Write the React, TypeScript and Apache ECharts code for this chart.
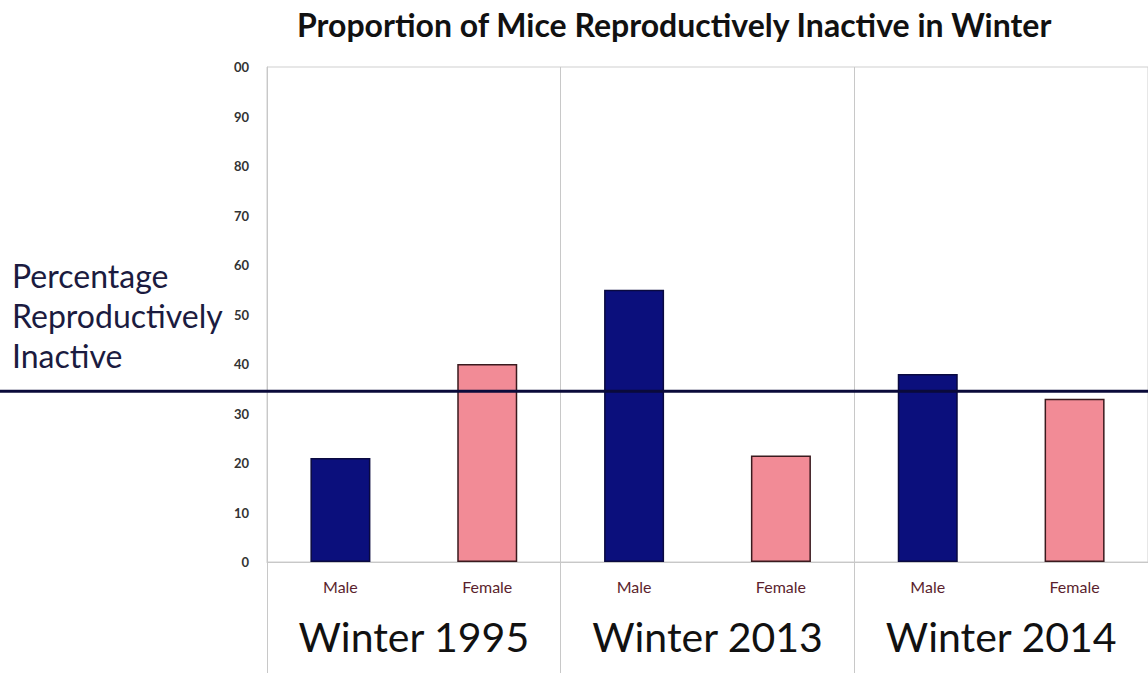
import React, { useEffect, useRef } from "react";
import * as echarts from "echarts";

const categories = ["Male", "Female", "Male", "Female", "Male", "Female"];
const groups = ["Winter 1995", "Winter 2013", "Winter 2014"];
const values = [21, 40, 55, 21.5, 38, 33];
const sexes = ["M", "F", "M", "F", "M", "F"];
const yTickLabels = ["0", "10", "20", "30", "40", "50", "60", "70", "80", "90", "00"];
const referenceValue = 34.5;

const NAVY = "#0b0f7c";
const PINK = "#f28b96";

export default function App() {
  const ref = useRef<HTMLDivElement>(null);
  useEffect(() => {
    document.body.style.margin = "0";
    const chart = echarts.init(ref.current!, null, { renderer: "svg" });
    const yLabel = {
      type: "text",
      left: 12,
      top: 255,
      style: {
        text: "Percentage\nReproductively\nInactive",
        font: "32px Lato",
        fill: "#1b1b40",
        lineHeight: 40,
      },
    };
    chart.setOption({
      animation: false,
      backgroundColor: "#ffffff",
      title: {
        text: "Proportion of Mice Reproductively Inactive in Winter",
        left: 292,
        top: 3,
        textStyle: { fontFamily: "Lato", fontWeight: "bold", fontSize: 32, color: "#111" },
      },
      grid: {
        left: 267,
        right: -4,
        top: 67,
        bottom: 111,
        show: true,
        borderColor: "#cfcfcf",
        borderWidth: 1,
      },
      xAxis: [
        {
          type: "category",
          data: categories,
          axisLine: { show: true, lineStyle: { color: "#c8c8c8", width: 1 } },
          axisTick: { show: false },
          axisLabel: { interval: 0, margin: 16, fontFamily: "Lato", fontSize: 16, color: "#5b1f2e" },
        },
        {
          type: "category",
          data: groups,
          position: "bottom",
          axisLine: { show: false },
          axisTick: { show: true, interval: 0, alignWithLabel: false, length: 115, lineStyle: { color: "#c8c8c8" } },
          splitLine: { show: true, interval: 0, lineStyle: { color: "#c8c8c8", width: 1 } },
          axisLabel: { interval: 0, margin: 54, fontFamily: "Lato", fontSize: 41, color: "#111" },
        },
      ],
      yAxis: {
        type: "value",
        min: 0,
        max: 100,
        interval: 10,
        axisLine: { show: true, lineStyle: { color: "#c8c8c8" } },
        axisTick: { show: false },
        splitLine: { show: false },
        axisLabel: {
          margin: 18,
          fontFamily: "Lato",
          fontSize: 13,
          fontWeight: "bold",
          color: "#333",
          formatter: (v: number) => yTickLabels[Math.round(v / 10)],
        },
      },
      series: [
        {
          type: "bar",
          xAxisIndex: 0,
          barWidth: 60,
          data: values.map((v, i) => ({
            value: v,
            itemStyle: {
              color: sexes[i] === "M" ? NAVY : PINK,
              borderColor: sexes[i] === "M" ? "#0a0a40" : "#3a1a1e",
              borderWidth: 1.5,
            },
          })),
        },
      ],
      graphic: [yLabel],
    });
    const y = chart.convertToPixel({ yAxisIndex: 0 }, referenceValue) as number;
    chart.setOption({
      graphic: [
        yLabel,
        {
          type: "line",
          shape: { x1: 0, y1: y, x2: chart.getWidth(), y2: y },
          style: { stroke: "#0a0a3a", lineWidth: 3 },
          z: 100,
        },
      ],
    });
    return () => chart.dispose();
  }, []);
  return <div ref={ref} style={{ width: 1148, height: 673 }} />;
}
